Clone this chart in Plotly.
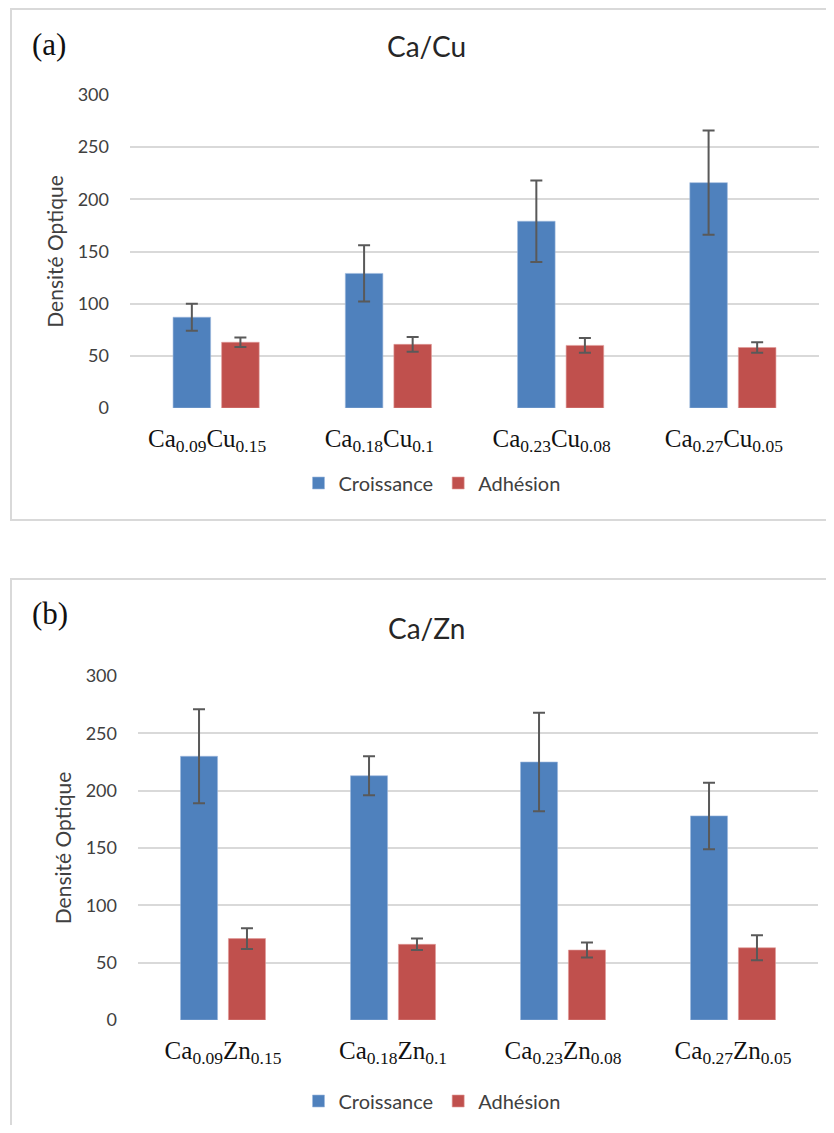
import plotly.graph_objects as go

# the page adds a small body margin, so the figure is a bit smaller than the window
OX, OY = 8, 8
W, H = 834 - 2 * OX, 1133 - 2 * OY

# data
cu_labels = ["Ca<sub>0.09</sub>Cu<sub>0.15</sub>", "Ca<sub>0.18</sub>Cu<sub>0.1</sub>",
             "Ca<sub>0.23</sub>Cu<sub>0.08</sub>", "Ca<sub>0.27</sub>Cu<sub>0.05</sub>"]
cu_croissance = [87, 129, 179, 216]
cu_croissance_err = [13, 27, 39, 50]
cu_adhesion = [63, 61, 60, 58]
cu_adhesion_err = [4.5, 7, 7, 5]

zn_labels = ["Ca<sub>0.09</sub>Zn<sub>0.15</sub>", "Ca<sub>0.18</sub>Zn<sub>0.1</sub>",
             "Ca<sub>0.23</sub>Zn<sub>0.08</sub>", "Ca<sub>0.27</sub>Zn<sub>0.05</sub>"]
zn_croissance = [230, 213, 225, 178]
zn_croissance_err = [41, 17, 43, 29]
zn_adhesion = [71, 66, 61, 63]
zn_adhesion_err = [9, 5, 6.5, 11]

y_ticks = [0, 50, 100, 150, 200, 250, 300]

blue = "#4F81BD"
red = "#C0504D"
err_col = "#595959"
grid = "#D9D9D9"
txt = "#404040"
sans = "Lato, 'Open Sans', sans-serif"
serif = "'Liberation Serif', 'Times New Roman', serif"


def fx(px):
    # window column -> paper x
    return (px - OX) / W


def fy(px):
    # window row -> paper y
    return 1 - (px - OY) / H


fig = go.Figure()

panels = [
    ("x", "y", "legend", cu_croissance, cu_croissance_err, cu_adhesion, cu_adhesion_err),
    ("x2", "y2", "legend2", zn_croissance, zn_croissance_err, zn_adhesion, zn_adhesion_err),
]
cats = [0, 1, 2, 3]
for xa, ya, leg, cr, cre, ad, ade in panels:
    fig.add_trace(go.Bar(
        x=cats, y=cr, name="Croissance", xaxis=xa, yaxis=ya, legend=leg,
        marker=dict(color=blue, line=dict(color="#9DB9DD", width=0.6)),
        error_y=dict(type="data", array=cre, color=err_col, thickness=2, width=6),
    ))
    fig.add_trace(go.Bar(
        x=cats, y=ad, name="Adhésion", xaxis=xa, yaxis=ya, legend=leg,
        marker=dict(color=red, line=dict(color="#E09A98", width=0.6)),
        error_y=dict(type="data", array=ade, color=err_col, thickness=2, width=6),
    ))

yaxis_common = dict(
    range=[0, 300], tickvals=y_ticks, showgrid=True, gridcolor=grid, gridwidth=1.5,
    zeroline=False, showline=False, tickfont=dict(family=sans, size=18, color=txt),
    ticklabelstandoff=20, automargin=False,
    title=dict(text="Densité Optique", font=dict(family=sans, size=21, color=txt), standoff=8),
)
xaxis_common = dict(
    range=[-0.5, 3.5], tickvals=cats, showgrid=False, zeroline=False, showline=False,
    ticks="", tickfont=dict(family=serif, size=25, color="#111111"), ticklabelstandoff=13,
    automargin=False,
)

fig.update_layout(
    width=W, height=H,
    margin=dict(l=0, r=0, t=0, b=0, autoexpand=False),
    paper_bgcolor="white", plot_bgcolor="white",
    barmode="group", bargap=0.436, bargroupgap=0.227,
    showlegend=True,
    xaxis=dict(domain=[fx(130), fx(819)], anchor="y", ticktext=cu_labels,
               ticklabelshift=-9, **xaxis_common),
    yaxis=dict(domain=[fy(408), fy(95)], anchor="x", **yaxis_common),
    xaxis2=dict(domain=[fx(138), fx(818)], anchor="y2", ticktext=zn_labels,
                **xaxis_common),
    yaxis2=dict(domain=[fy(1020), fy(676)], anchor="x2", **yaxis_common),
    legend=dict(orientation="h", x=fx(432), y=fy(483), xanchor="center", yanchor="middle",
                font=dict(family=sans, size=20, color=txt), itemwidth=30,
                bgcolor="rgba(0,0,0,0)"),
    legend2=dict(orientation="h", x=fx(432), y=fy(1101), xanchor="center", yanchor="middle",
                 font=dict(family=sans, size=20, color=txt), itemwidth=30,
                 bgcolor="rgba(0,0,0,0)"),
    shapes=[
        dict(type="rect", xref="paper", yref="paper", x0=fx(11), x1=1.05,
             y0=fy(520), y1=min(fy(7), 0.999), line=dict(color=grid, width=2)),
        dict(type="rect", xref="paper", yref="paper", x0=fx(11), x1=1.05,
             y0=-0.05, y1=fy(579), line=dict(color=grid, width=2)),
    ],
    annotations=[
        dict(text="Ca/Cu", x=fx(426), y=fy(46), xref="paper", yref="paper",
             xanchor="center", yanchor="middle",
             showarrow=False, font=dict(family=sans, size=28, color="#262626")),
        dict(text="Ca/Zn", x=fx(426), y=fy(628), xref="paper", yref="paper",
             xanchor="center", yanchor="middle",
             showarrow=False, font=dict(family=sans, size=28, color="#262626")),
        dict(text="(a)", x=fx(49), y=fy(44), xref="paper", yref="paper",
             xanchor="center", yanchor="middle",
             showarrow=False, font=dict(family=serif, size=31, color="#111111")),
        dict(text="(b)", x=fx(50), y=fy(614), xref="paper", yref="paper",
             xanchor="center", yanchor="middle",
             showarrow=False, font=dict(family=serif, size=31, color="#111111")),
    ],
)

fig.write_html("out.html")
